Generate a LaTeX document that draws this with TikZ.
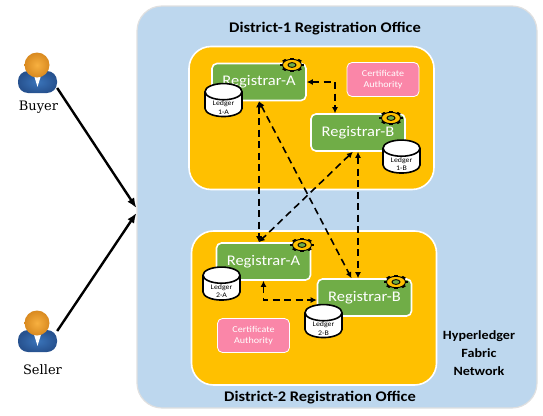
\documentclass[tikz,border=0pt]{standalone}
\usepackage{fontspec}
\setmainfont{Carlito}[FakeStretch=1.12]
\newfontfamily\actorfont{DejaVu Serif}
\usetikzlibrary{calc,arrows.meta,shapes.geometric}
\definecolor{netblue}{HTML}{BDD7EE}
\definecolor{officeyellow}{HTML}{FFC000}
\definecolor{regreen}{HTML}{70AD47}
\definecolor{capink}{HTML}{FA86A8}
\definecolor{headorange}{HTML}{F7B040}
\definecolor{headedge}{HTML}{D98A20}
\definecolor{bodyblue}{HTML}{3A74BA}
\definecolor{bodyedge}{HTML}{27528F}
\tikzset{
  office/.style={draw=white,line width=1.6pt,fill=officeyellow,rounded corners=22pt,inner sep=0pt,minimum width=245pt,minimum height=#1},
  registrar/.style={draw=white,line width=1.6pt,fill=regreen,rounded corners=5pt,inner sep=0pt,minimum width=94pt,minimum height=37pt,text=white,font=\fontsize{14.7}{17}\selectfont},
  authority/.style={draw=white,line width=.8pt,fill=capink,rounded corners=5pt,inner sep=0pt,minimum width=72pt,minimum height=34pt,text=white,align=center,font=\fontsize{9}{11.5}\selectfont},
  ledgertext/.style={align=center,inner sep=0pt,yshift=-3pt,font=\fontsize{7}{8.5}\selectfont},
  ledger/.style={cylinder,shape border rotate=90,aspect=.75,draw=black,line width=1.6pt,fill=white,inner sep=0pt,minimum width=37pt,minimum height=33pt,label={[ledgertext]center:#1},font=\fontsize{7}{8.5}\selectfont,execute at begin node=\phantom{Ledger}},
  title/.style={font=\fontsize{14.7}{17}\selectfont\bfseries},
  fabrictitle/.style={align=center,font=\fontsize{12.6}{18}\selectfont\bfseries},
  actor/.style={inner color=bodyblue,outer color=bodyedge,rounded corners=10pt,inner sep=0pt,minimum width=39pt,minimum height=22pt},
  actorname/.style={font=\actorfont\fontsize{13}{15}\selectfont},
  head/.style={inner color=headorange,outer color=headedge},
  tie/.style={fill=white},
  link/.style={{Latex[length=6pt,width=6pt]}-{Latex[length=6pt,width=6pt]},dash pattern=on 7pt off 4.5pt,line width=1.6pt},
  walk/.style={-{Latex[length=10pt,width=8pt]},line width=2.4pt},
  gear/.pic={
    \begin{scope}[yscale=.6]
      \foreach \a in {0,45,...,315} \fill[rotate=\a] (-2.2,0) rectangle (2.2,12);
      \draw[line width=.9pt,fill=officeyellow] (0,0) circle(9.5);
      \draw[line width=.9pt,fill=regreen] (0,0) circle(4);
    \end{scope}
  }
}
\begin{document}
\begin{tikzpicture}[x=1pt,y=-1pt,>=latex]
  \useasboundingbox (0,0) rectangle (543,415);
  \node[draw=black!12,line width=1.2pt,fill=netblue,rounded corners=25pt,minimum width=400pt,minimum height=402pt,inner sep=0pt] (network) at (337,207) {};
  \coordinate (netinA) at ($(network.west)+(0,1)$);
  \coordinate (netinB) at ($(network.west)+(0,6)$);
  \node[office=143pt] (office1) at (311.5,118) {};
  \node[office=154pt] (office2) at (314,308) {};
  \node[title] (title1) at (325,29) {District-1 Registration Office};
  \node[title] (title2) at (320,398) {District-2 Registration Office};
  \node[fabrictitle] (fabric) at (479,353) {Hyperledger\\Fabric\\Network};
  % registrars
  \node[registrar] (regA1) at (259,82) {Registrar-A};
  \node[registrar] (regB1) at (358,132.5) {Registrar-B};
  \node[registrar] (regA2) at (263.5,261.5) {Registrar-A};
  \node[registrar] (regB2) at (364.5,297.5) {Registrar-B};
  \node[authority] (auth1) at (383,79.5) {Certificate\\Authority};
  \node[authority] (auth2) at (253.5,335.5) {Certificate\\Authority};
  \node[ledger={Ledger\\1-A}] (ledgerA1) at (223.5,104.5) {};
  \node[ledger={Ledger\\1-B}] (ledgerB1) at (401.5,161) {};
  \node[ledger={Ledger\\2-A}] (ledgerA2) at (221.5,288) {};
  \node[ledger={Ledger\\2-B}] (ledgerB2) at (323.5,325.5) {};
  \pic at (292,65) {gear};
  \pic at (391,118) {gear};
  \pic at (302,245) {gear};
  \pic at (396,282) {gear};
  % dashed links
  \draw[link] (regA1.east) -| (regB1.140);
  \draw[link] (regA2.south) |- (regB2.183);
  \draw[link] (regA1.south) -- (regA1.south |- regA2.north);
  \draw[link] (regB1.south) -- (regB1.south |- regB2.north);
  \draw[link] (regA1.south) -- (regB2.124);
  \draw[link] (regB1.255) -- (regA2.104);
  % actors
  \node[actor] (buyer) at (37.5,82) {};
  \fill[tie] ($(buyer.north)+(-5,0)$) -- ($(buyer.north)+(5,0)$) -- ($(buyer.north)+(0,16)$) -- cycle;
  \shade[head] (37,65) circle(12.5);
  \node[actorname] (buyername) at (38.5,107) {Buyer};
  \node[actor] (seller) at (37.5,341) {};
  \fill[tie] ($(seller.north)+(-5,0)$) -- ($(seller.north)+(5,0)$) -- ($(seller.north)+(0,16)$) -- cycle;
  \shade[head] (37,323) circle(12.5);
  \node[actorname] (sellername) at (42.5,370) {Seller};
  \draw[walk] (buyer.-17) -- (netinA);
  \draw[walk] (seller.27) -- (netinB);
\end{tikzpicture}
\end{document}
